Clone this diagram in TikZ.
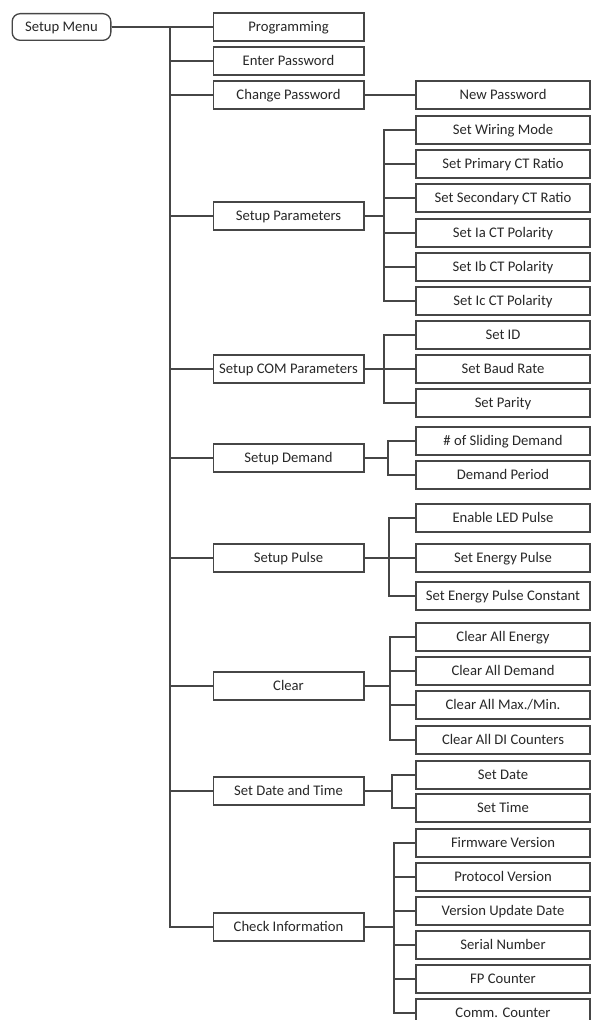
\documentclass[tikz,border=0pt]{standalone}
\usepackage{fontspec}
\setmainfont{Carlito}
\usepackage{xcolor}
\definecolor{MenuLine}{RGB}{70, 70, 70}
\definecolor{MenuText}{RGB}{40, 40, 40}

\tikzset{
  conn/.style={draw=MenuLine, line width=1pt},
  menubox/.style={draw=MenuLine, line width=1pt, rounded corners=6pt, minimum width=74pt, minimum height=20pt, inner sep=0pt, text height=1.4ex, text depth=0pt, text=MenuText},
  itembox/.style={draw=MenuLine, line width=1pt, fill=white, minimum width=113pt, minimum height=21pt, inner sep=0pt, text height=1.4ex, text depth=0pt, text=MenuText},
  subbox/.style={itembox, minimum width=130.5pt}
}

\begin{document}
\begin{tikzpicture}[x=0.75pt, y=-0.75pt, font=\fontsize{11}{13}\selectfont]

\useasboundingbox (0,0) rectangle (591,1020);

% Root
\node[menubox] (menu) at (61.5,27) {Setup Menu};

% First level
\foreach \n/\y/\txt in {prog/27/Programming, enter/61/Enter Password, chpw/95/Change Password,
    setpar/216/Setup Parameters, setcom/369/Setup COM Parameters, setdem/458/Setup Demand,
    setpul/558/Setup Pulse, clear/686/Clear, datetime/791/Set Date and Time, info/927/Check Information} {
  \node[itembox] (\n) at (288.5,\y) {\txt};
}

% Trunk
\coordinate (trunk) at (170,27);
\foreach \n in {prog, enter, chpw, setpar, setcom, setdem, setpul, clear, datetime, info} {
  \draw[conn] (menu.east) -- (trunk) |- (\n.west);
}

% Change Password
\node[subbox] (newpw) at (503,95) {New Password};
\draw[conn] (chpw) -- (newpw);

% Setup Parameters
\foreach \n/\y/\txt in {wiring/130/Set Wiring Mode, primct/164/Set Primary CT Ratio, secct/198/Set Secondary CT Ratio,
    iapol/233/Set Ia CT Polarity, ibpol/267/Set Ib CT Polarity, icpol/301/Set Ic CT Polarity} {
  \node[subbox] (\n) at (503,\y) {\txt};
}
\coordinate (jpar) at (384,216);
\foreach \n in {wiring, primct, secct, iapol, ibpol, icpol} {
  \draw[conn] (setpar.east) -- (jpar) |- (\n.west);
}

% Setup COM Parameters
\foreach \n/\y/\txt in {setid/335/Set ID, baud/369/Set Baud Rate, parity/403/Set Parity} {
  \node[subbox] (\n) at (503,\y) {\txt};
}
\coordinate (jcom) at (384,369);
\foreach \n in {setid, baud, parity} {
  \draw[conn] (setcom.east) -- (jcom) |- (\n.west);
}

% Setup Demand
\foreach \n/\y/\txt in {sliding/441/\# of Sliding Demand, period/475/Demand Period} {
  \node[subbox] (\n) at (503,\y) {\txt};
}
\coordinate (jdem) at (388,458);
\foreach \n in {sliding, period} {
  \draw[conn] (setdem.east) -- (jdem) |- (\n.west);
}

% Setup Pulse
\foreach \n/\y/\txt in {ledpul/518/Enable LED Pulse, enpul/558/Set Energy Pulse, enconst/596/Set Energy Pulse Constant} {
  \node[subbox] (\n) at (503,\y) {\txt};
}
\coordinate (jpul) at (389,558);
\foreach \n in {ledpul, enpul, enconst} {
  \draw[conn] (setpul.east) -- (jpul) |- (\n.west);
}

% Clear
\foreach \n/\y/\txt in {clren/637/Clear All Energy, clrdem/671/Clear All Demand, clrmax/705/{Clear All Max./Min.},
    clrdi/740/Clear All DI Counters} {
  \node[subbox] (\n) at (503,\y) {\txt};
}
\coordinate (jclr) at (390,686);
\foreach \n in {clren, clrdem, clrmax, clrdi} {
  \draw[conn] (clear.east) -- (jclr) |- (\n.west);
}

% Set Date and Time
\foreach \n/\y/\txt in {setdate/775/Set Date, settime/808/Set Time} {
  \node[subbox] (\n) at (503,\y) {\txt};
}
\coordinate (jdt) at (392,791);
\foreach \n in {setdate, settime} {
  \draw[conn] (datetime.east) -- (jdt) |- (\n.west);
}

% Check Information
\foreach \n/\y/\txt in {firmware/843/Firmware Version, protocol/877/Protocol Version, upddate/911/Version Update Date,
    serial/945/Serial Number, fpcount/979/FP Counter, commcount/1013/Comm. Counter} {
  \node[subbox] (\n) at (503,\y) {\txt};
}
\coordinate (jinfo) at (394,927);
\foreach \n in {firmware, protocol, upddate, serial, fpcount, commcount} {
  \draw[conn] (info.east) -- (jinfo) |- (\n.west);
}

\end{tikzpicture}
\end{document}
